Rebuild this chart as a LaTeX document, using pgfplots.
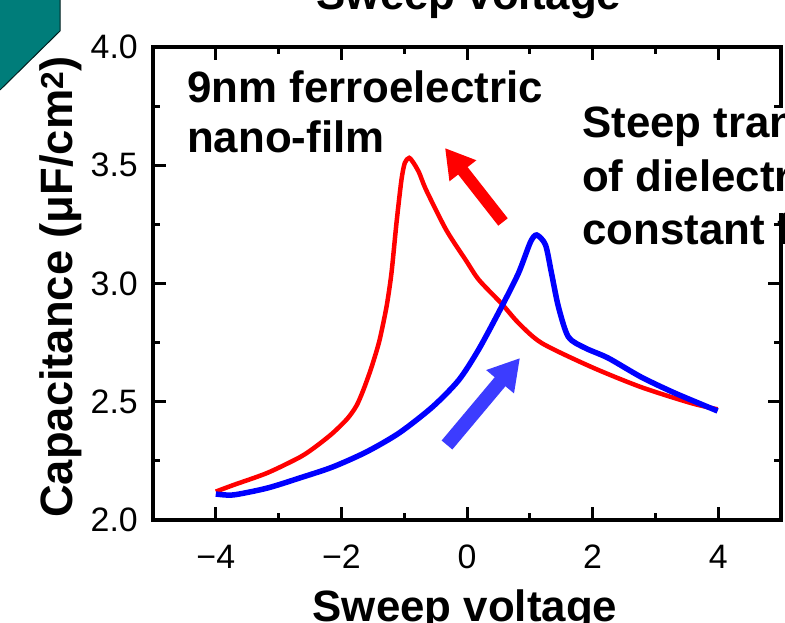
\documentclass[border=0pt]{standalone}
\usepackage{pgfplots}
\pgfplotsset{compat=1.18}
\usepackage{fontspec}
\setmainfont{Liberation Sans}
\usetikzlibrary{arrows.meta}
\definecolor{tealshape}{RGB}{0,125,122}
\definecolor{arrowblue}{RGB}{60,60,255}
\begin{document}
\begin{tikzpicture}[x=1bp,y=1bp]
\fill[tealshape] (0,623) -- (60,623) -- (60,592) -- (0,533) -- cycle;
\draw[black!75!tealshape, line width=1bp] (60,623) -- (60,592) -- (0,533);
\begin{axis}[
  at={(153bp,103bp)}, anchor=south west,
  scale only axis, width=628bp, height=473bp,
  xmin=-5, xmax=5, ymin=2, ymax=4,
  xtick={-4,-2,0,2,4}, xticklabels={−4,−2,0,2,4},
  minor xtick={-3,-1,1,3},
  ytick={2,2.5,3,3.5,4}, yticklabels={2.0,2.5,3.0,3.5,4.0},
  minor ytick={2.25,2.75,3.25,3.75},
  tick align=inside,
  major tick length=13bp, minor tick length=7bp,
  axis line style={line width=3.5bp},
  every tick/.style={black, line width=3bp},
  tick label style={font=\fontsize{34}{34}\selectfont},
  /pgf/number format/assume math mode=true,
  xticklabel style={anchor=north, inner sep=0pt, yshift=-25bp},
  yticklabel style={anchor=east, inner sep=0pt, xshift=-15bp},
  clip=false,
]
\addplot[red, line width=4.5bp, smooth, tension=0.45] coordinates {
(3.99,2.468) (3.56,2.495) (2.77,2.562) (1.98,2.647) (1.19,2.748) (0.82,2.833)
(0.55,2.915) (0.19,3.015) (-0.02,3.099) (-0.33,3.226) (-0.65,3.395) (-0.76,3.467)
(-0.84,3.505) (-0.92,3.531) (-0.99,3.51) (-1.044,3.438) (-1.123,3.256) (-1.203,3.044)
(-1.282,2.901) (-1.392,2.761) (-1.48,2.68) (-1.551,2.622) (-1.65,2.55) (-1.756,2.485)
(-1.9,2.43) (-2.136,2.368) (-2.4,2.312)
(-2.658,2.266) (-3.18,2.199) (-3.718,2.148) (-4.0,2.12)
};
\addplot[blue, line width=5.5bp, smooth, tension=0.45] coordinates {
(-4.0,2.11) (-3.72,2.106) (-3.18,2.135) (-2.66,2.178) (-2.14,2.224) (-1.6,2.288)
(-1.08,2.368) (-0.55,2.478) (-0.13,2.592) (0.19,2.723) (0.55,2.901) (0.82,3.044)
(1.01,3.175) (1.11,3.205) (1.25,3.163) (1.345,3.044) (1.456,2.901) (1.614,2.774)
(1.883,2.727) (2.247,2.685) (2.769,2.605) (3.307,2.537) (3.99,2.461)
};
\end{axis}
\fill[white] (765,410) rectangle (795,515);
\draw[red, line width=12bp, -{Triangle[length=29bp,width=32bp]}] (503,401) -- (445,475);
\draw[arrowblue, line width=14bp, -{Triangle[length=31bp,width=34bp]}] (447,178) -- (520,265);
\begin{scope}[every node/.style={inner sep=0pt, font=\bfseries\fontsize{44}{44}\selectfont}]
\node[anchor=base west] at (187,520) {9nm ferroelectric};
\node[anchor=base west] at (187,470) {nano-film};
\node[anchor=base west] at (582,485) {Steep transition};
\node[anchor=base west] at (582,431) {of dielectric};
\node[anchor=base west] at (582,378) {constant for};
\node[anchor=base] at (469,613) {Sweep voltage};
\node[anchor=base] at (465,1.5) {Sweep voltage};
\node[anchor=base, rotate=90, font=\bfseries\fontsize{45.5}{45.5}\selectfont] at (72,336) {Capacitance (μF/cm\textsuperscript{2})};
\end{scope}
\pgfresetboundingbox
\useasboundingbox (0,0) rectangle (785,623);
\end{tikzpicture}
\end{document}
